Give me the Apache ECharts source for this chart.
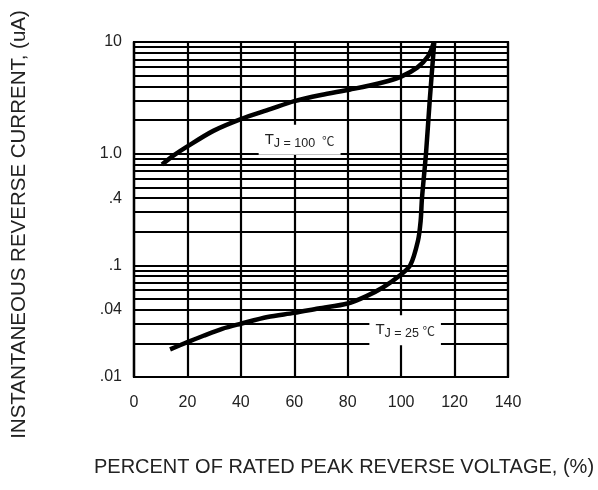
<!DOCTYPE html>
<html>
<head>
<meta charset="utf-8">
<script src="https://cdn.jsdelivr.net/npm/echarts@6/dist/echarts.min.js"></script>
<style>
html,body{margin:0;padding:0;background:#fff;}
#c{width:598px;height:490px;}
</style>
</head>
<body>
<div id="c"></div>
<script>
// Percent of rated peak reverse voltage (%), instantaneous reverse current (uA)
var xTicks = [0, 20, 40, 60, 80, 100, 120, 140];
var yDecades = [0.01, 0.1, 1, 10];
var yDecadeLabels = ['.01', '.1', '1.0', '10'];
var yMinorLines = [0.02, 0.03, 0.04, 0.05, 0.06, 0.07, 0.08, 0.09,
                   0.2, 0.3, 0.4, 0.5, 0.6, 0.7, 0.8, 0.9,
                   2, 3, 4, 5, 6, 7, 8, 9];
var yExtraLabels = {0.4: '.4', 0.04: '.04'};

var t100 = [[10.5,0.80],[15,0.97],[19.7,1.15],[29.7,1.6],[40,2.04],[51,2.5],[60,2.95],
            [70,3.35],[81,3.76],[93,4.34],[100,4.9],[106,5.9],[110,7.4],[112.3,10]];
var t25 = [[13.5,0.0177],[20,0.0205],[26,0.0234],[33,0.027],[40,0.030],[50,0.0345],
           [60,0.0375],[69,0.041],[80,0.0455],[87,0.053],[93,0.063],[99.5,0.081],
           [103.4,0.1],[106.3,0.166],[107.3,0.25],[107.8,0.4],[109.3,1.0],[110.7,3.0],[112.4,10]];
var t100Label = [62, 1.33];
var t25Label = [101.5, 0.0262];

var chart = echarts.init(document.getElementById('c'));
var fontFam = 'Liberation Sans, Arial, sans-serif';
var rich = {
  t: {fontSize: 15, color: '#222', fontFamily: fontFam},
  j: {fontSize: 12.5, color: '#222', fontFamily: fontFam, padding: [7, 0, 0, 0]},
  c: {fontSize: 12.5, color: '#333', fontFamily: 'Noto Sans CJK SC', padding: [2, 0, 0, 0]}
};
function labelPoint(coord, text) {
  return {
    symbol: 'rect', symbolSize: 0, silent: true,
    data: [{coord: coord}],
    label: {show: true, position: 'inside', formatter: text,
            backgroundColor: '#fff', padding: [5, 6, 5, 6], rich: rich}
  };
}
chart.setOption({
  animation: false,
  backgroundColor: '#fff',
  grid: {left: 134, top: 42, right: 90, bottom: 113, show: true,
         borderColor: '#000', borderWidth: 2.2, backgroundColor: 'transparent'},
  xAxis: {
    type: 'value', min: 0, max: 140, interval: 20,
    axisLine: {show: true, lineStyle: {color: '#000', width: 2.2}},
    axisTick: {show: false},
    splitLine: {show: true, lineStyle: {color: '#000', width: 2.2}},
    axisLabel: {color: '#222', fontSize: 16, fontFamily: fontFam, margin: 18},
    name: 'PERCENT OF RATED PEAK REVERSE VOLTAGE, (%)',
    nameLocation: 'middle', nameGap: 80,
    nameTextStyle: {color: '#222', fontSize: 20, fontFamily: fontFam, padding: [0, 0, 0, 46]}
  },
  yAxis: {
    type: 'log', logBase: 10, min: 0.01, max: 10,
    axisLine: {show: true, lineStyle: {color: '#000', width: 2.2}},
    axisTick: {show: false},
    splitLine: {show: true, lineStyle: {color: '#000', width: 2.2}},
    axisLabel: {color: '#222', fontSize: 16, fontFamily: fontFam, margin: 12,
      formatter: function (v) {
        for (var i = 0; i < yDecades.length; i++) {
          if (Math.abs(v - yDecades[i]) / yDecades[i] < 1e-6) return yDecadeLabels[i];
        }
        return '';
      }},
    name: 'INSTANTANEOUS REVERSE CURRENT, (uA)',
    nameLocation: 'middle', nameGap: 104, nameRotate: 90,
    nameTextStyle: {color: '#222', fontSize: 20.5, fontFamily: fontFam, padding: [0, 30, 0, 0]}
  },
  series: [
    {
      type: 'line', data: t100, showSymbol: false, smooth: 0.3,
      lineStyle: {color: '#000', width: 4.5}, z: 5,
      markLine: {
        silent: true, symbol: ['none', 'none'], animation: false,
        lineStyle: {color: '#000', width: 2.2, type: 'solid'},
        data: yMinorLines.map(function (v) {
          var lab = yExtraLabels[v];
          return {yAxis: v, label: lab ? {show: true, position: 'start', formatter: lab,
                   color: '#222', fontSize: 16, fontFamily: fontFam, distance: 12} : {show: false}};
        })
      },
      markPoint: labelPoint(t100Label, '{t|T}{j|J = 100  }{c|℃}')
    },
    {
      type: 'line', data: t25, showSymbol: false, smooth: 0.3,
      lineStyle: {color: '#000', width: 4.5}, z: 5,
      markPoint: labelPoint(t25Label, '{t|T}{j|J = 25 }{c|℃}')
    }
  ]
});
</script>
</body>
</html>
